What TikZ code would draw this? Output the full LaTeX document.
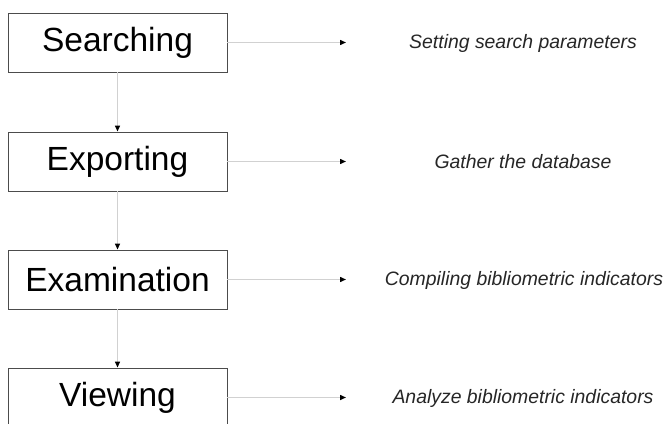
\documentclass[tikz,border=0pt]{standalone}
\usepackage{fontspec}
\setmainfont{Liberation Sans}
\usetikzlibrary{arrows.meta}

\begin{document}
\begin{tikzpicture}[x=1pt, y=1pt,
    stage/.style={rectangle, draw=black!70, line width=0.9pt, minimum width=219pt, minimum height=59pt, inner sep=0pt, font=\fontsize{33.5}{36}\selectfont},
    desc/.style={font=\fontsize{19.4}{22}\selectfont\itshape, text=black!85},
    link/.style={draw=black!18, line width=1.4pt, -{Triangle[length=6pt, width=5pt, color=black]}}
]
\useasboundingbox (0,0) rectangle (666,-423);

% ----- stages -----
\node[stage] (search) at (117.5,-42.5) {Searching};
\node[stage] (export) at (117.5,-161.5) {Exporting};
\node[stage] (exam)   at (117.5,-279.5) {Examination};
\node[stage] (view)   at (117.5,-397.5) {Viewing};

% ----- arrow ends -----
\coordinate (searchend) at (346,-42.5);
\coordinate (exportend) at (346,-161.5);
\coordinate (examend)   at (346,-279.5);
\coordinate (viewend)   at (346,-397.5);

% ----- descriptions -----
\node[desc] (searchdesc) at (523,-43) {Setting search parameters};
\node[desc] (exportdesc) at (523,-162) {Gather the database};
\node[desc] (examdesc)   at (524,-280) {Compiling bibliometric indicators};
\node[desc] (viewdesc)   at (523,-398) {Analyze bibliometric indicators};

% ----- links -----
\draw[link] (search)--(export);
\draw[link] (export)--(exam);
\draw[link] (exam)--(view);

\draw[link] (search)--(searchend);
\draw[link] (export)--(exportend);
\draw[link] (exam)--(examend);
\draw[link] (view)--(viewend);

\end{tikzpicture}
\end{document}
